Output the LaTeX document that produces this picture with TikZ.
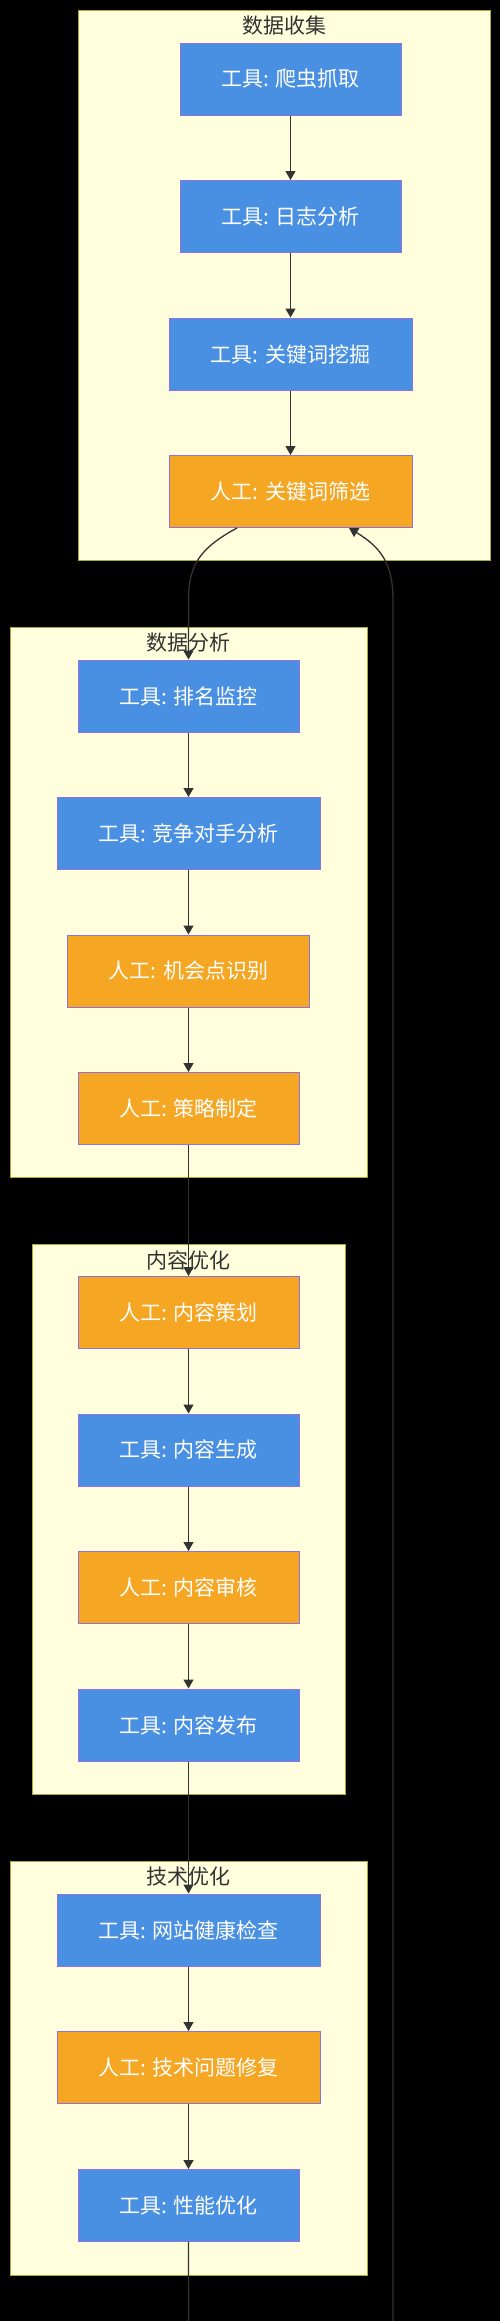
\documentclass[tikz,border=0pt]{standalone}
\usepackage{fontspec}
\newfontfamily\cjkfont{Noto Sans CJK SC}
\usetikzlibrary{arrows.meta}

\begin{document}
\begin{tikzpicture}[x=1pt,y=1pt,yscale=-1,xscale=1,
  group/.style={draw={rgb, 255:red, 170; green, 170; blue, 51 },fill={rgb, 255:red, 255; green, 255; blue, 222 },line width=1pt},
  grouptitle/.style={text={rgb, 255:red, 51; green, 51; blue, 51 },font=\cjkfont\fontsize{21}{25}\selectfont,inner sep=0pt},
  stepnode/.style={draw={rgb, 255:red, 147; green, 112; blue, 219 },line width=1pt,text=white,font=\cjkfont\fontsize{21}{25}\selectfont,minimum height=72pt,inner sep=0pt},
  toolbox/.style={stepnode,fill={rgb, 255:red, 74; green, 144; blue, 226 }},
  humanbox/.style={stepnode,fill={rgb, 255:red, 245; green, 166; blue, 35 }},
  flow/.style={draw={rgb, 255:red, 51; green, 51; blue, 51 },line width=1.3pt,-{Triangle[width=10pt,length=9pt]}}
]
\useasboundingbox (0,0) rectangle (500,2321);
\clip (0,0) rectangle (500,2321);
\fill[black] (0,0) rectangle (500,2321);
%Shape: Rectangle [group 1]
\draw [group] (78,10) rectangle (490,560);
%Shape: Rectangle [group 2]
\draw [group] (10,627) rectangle (367,1177);
%Shape: Rectangle [group 3]
\draw [group] (32,1244) rectangle (345,1794);
%Shape: Rectangle [group 4]
\draw [group] (10,1861) rectangle (367,2275);
% Text Node
\node [grouptitle] (t1) at (284,26) {数据收集};
\node [grouptitle] (t2) at (188.5,643) {数据分析};
\node [grouptitle] (t3) at (188.5,1260) {内容优化};
\node [grouptitle] (t4) at (188.5,1877) {技术优化};
% Step Nodes
\node [toolbox,minimum width=221pt] (crawl) at (290.5,79) {工具: 爬虫抓取};
\node [toolbox,minimum width=221pt] (logs) at (290.5,216.5) {工具: 日志分析};
\node [toolbox,minimum width=243pt] (kwmine) at (290.5,354) {工具: 关键词挖掘};
\node [humanbox,minimum width=243pt] (kwfilter) at (290.5,491.5) {人工: 关键词筛选};
\node [toolbox,minimum width=221pt] (rank) at (188.5,696) {工具: 排名监控};
\node [toolbox,minimum width=263pt] (rival) at (188.5,833.5) {工具: 竞争对手分析};
\node [humanbox,minimum width=242pt] (chance) at (188.5,971) {人工: 机会点识别};
\node [humanbox,minimum width=221pt] (plan) at (188.5,1108.5) {人工: 策略制定};
\node [humanbox,minimum width=221pt] (cplan) at (188.5,1312.5) {人工: 内容策划};
\node [toolbox,minimum width=221pt] (cgen) at (188.5,1450) {工具: 内容生成};
\node [humanbox,minimum width=221pt] (creview) at (188.5,1587.5) {人工: 内容审核};
\node [toolbox,minimum width=221pt] (cpub) at (188.5,1725) {工具: 内容发布};
\node [toolbox,minimum width=263pt] (health) at (188.5,1930) {工具: 网站健康检查};
\node [humanbox,minimum width=263pt] (fix) at (188.5,2067.5) {人工: 技术问题修复};
\node [toolbox,minimum width=221pt] (perf) at (188.5,2205.5) {工具: 性能优化};
\coordinate (loopL) at (188.5,2345);
\coordinate (loopR) at (393,2345);
%Straight Lines
\draw [flow] (crawl) -- (logs);
\draw [flow] (logs) -- (kwmine);
\draw [flow] (kwmine) -- (kwfilter);
\draw [flow] (rank) -- (rival);
\draw [flow] (rival) -- (chance);
\draw [flow] (chance) -- (plan);
\draw [flow] (plan) -- (cplan);
\draw [flow] (cplan) -- (cgen);
\draw [flow] (cgen) -- (creview);
\draw [flow] (creview) -- (cpub);
\draw [flow] (cpub) -- (health);
\draw [flow] (health) -- (fix);
\draw [flow] (fix) -- (perf);
%Curve Lines
\draw [flow] ([xshift=-53.5pt]kwfilter.south) .. controls (200,548) and (188.5,565) .. (188.5,600) -- (rank);
\draw [flow] (perf) -- (loopL) -- (loopR) -- (393,600) .. controls (393,565) and (382,548) .. ([xshift=58.5pt]kwfilter.south);
\end{tikzpicture}
\end{document}
